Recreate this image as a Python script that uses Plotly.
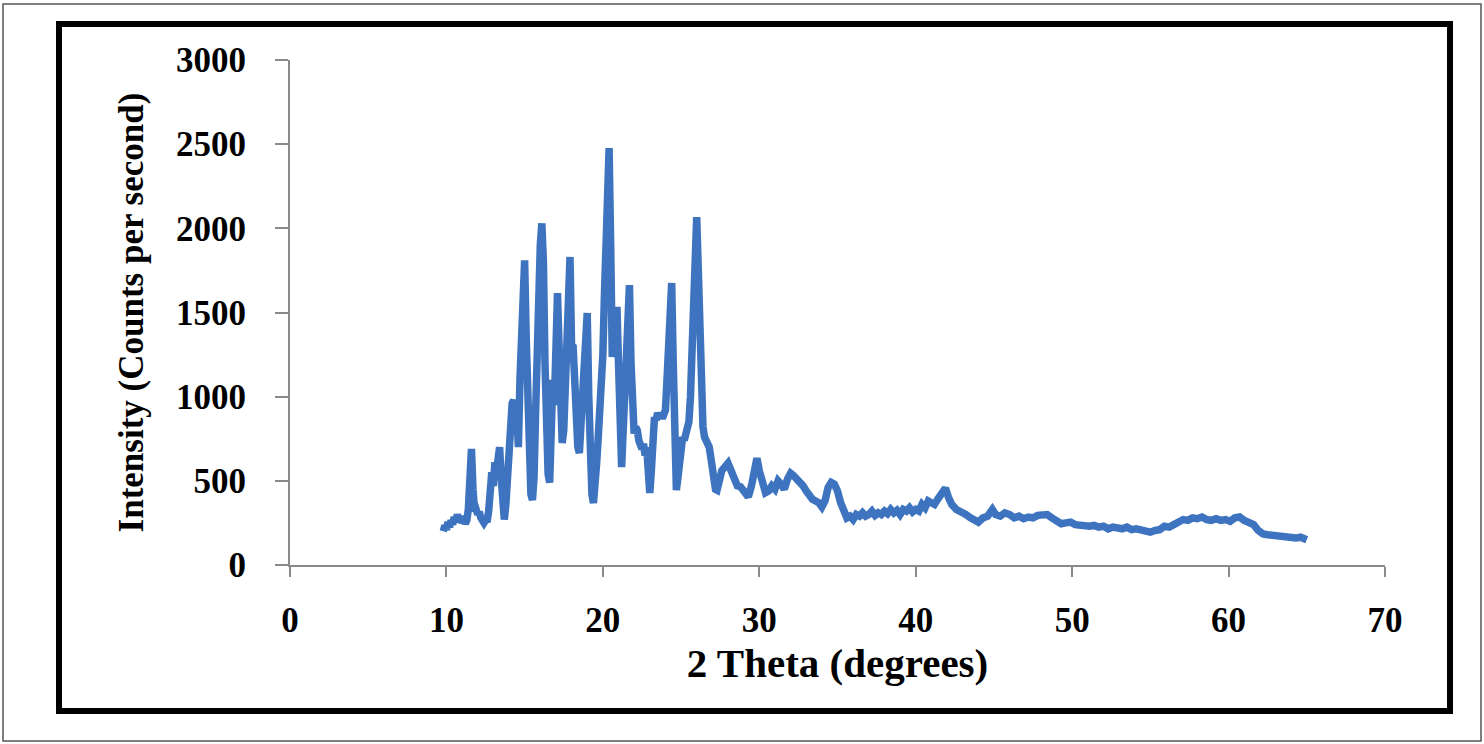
import plotly.graph_objects as go

# ---- data ----
theta_a = [9.8, 9.9, 10.0, 10.1, 10.2, 10.3, 10.4, 10.5, 10.6, 10.7,
           10.8, 10.9, 11.0, 11.1, 11.2, 11.3, 11.4, 11.5, 11.6, 11.7,
           11.8, 11.9, 12.0, 12.1, 12.2, 12.3, 12.4, 12.5, 12.6, 12.7,
           12.8, 12.9, 13.0, 13.1, 13.2, 13.3, 13.4, 13.5, 13.6, 13.7,
           13.8, 13.9, 14.0, 14.1, 14.2, 14.3, 14.4, 14.5, 14.6, 14.7,
           14.8, 14.9, 15.0, 15.1, 15.2, 15.3, 15.4, 15.5, 15.6, 15.7,
           15.8, 15.9, 16.0, 16.1, 16.2, 16.3, 16.4, 16.5, 16.6, 16.7,
           16.8, 16.9, 17.0, 17.1, 17.2, 17.3, 17.4, 17.5, 17.6, 17.7,
           17.8, 17.9, 18.0, 18.1, 18.2, 18.3, 18.4, 18.5, 18.6, 18.7,
           18.8, 18.9, 19.0, 19.1, 19.2, 19.3, 19.4, 19.5, 19.6, 19.7,
           19.8, 19.9, 20.0, 20.1, 20.2, 20.3, 20.4, 20.5, 20.6, 20.7,
           20.8, 20.9, 21.0, 21.1, 21.2, 21.3, 21.4, 21.5, 21.6, 21.7,
           21.8, 21.9, 22.0, 22.1, 22.2, 22.3, 22.4, 22.5, 22.6, 22.7,
           22.8, 22.9, 23.0, 23.1, 23.2, 23.3, 23.4, 23.5, 23.6, 23.7,
           23.8, 23.9, 24.0, 24.1, 24.2, 24.3, 24.4, 24.5, 24.6, 24.7,
           24.8, 24.9, 25.0, 25.1, 25.2, 25.3, 25.4, 25.5, 25.6, 25.7,
           25.8, 25.9, 26.0, 26.1, 26.2, 26.3, 26.4, 26.5, 26.6, 26.7,
           26.8, 26.9, 27.0, 27.1, 27.2, 27.3, 27.4, 27.5]
counts_a = [200, 235, 210, 255, 225, 265, 240, 285, 255, 300,
            265, 290, 250, 275, 245, 265, 330, 560, 690, 450,
            320, 330, 300, 315, 280, 260, 250, 265, 255, 320,
            430, 550, 470, 610, 560, 660, 700, 520, 330, 270,
            360, 520, 680, 880, 960, 980, 820, 900, 700, 1100,
            1450, 1700, 1810, 1350, 850, 560, 420, 386, 520, 900,
            1400, 1700, 1900, 2030, 1800, 1200, 760, 540, 490, 750,
            1100, 950, 1300, 1615, 1300, 950, 725, 800, 1100, 1400,
            1650, 1830, 1300, 1295, 1100, 850, 700, 665, 850, 1100,
            1300, 1450, 1497, 1000, 600, 420, 368, 450, 600, 750,
            900, 1000, 1250, 1600, 2000, 2300, 2477, 1900, 1236, 1350,
            1450, 1533, 1200, 750, 582, 800, 1100, 1350, 1550, 1663,
            1200, 850, 780, 820, 800, 740, 725, 690, 720, 650,
            700, 520, 428, 560, 750, 880, 860, 903, 880, 900,
            870, 900, 920, 1100, 1350, 1600, 1675, 1200, 700, 445,
            520, 650, 730, 760, 740, 780, 790, 850, 1000, 1200,
            1415, 1800, 2067, 1700, 1200, 880, 820, 760, 740, 720,
            700, 640, 560, 480, 450, 445, 470, 520]

theta_b = [27.6, 27.8, 28.0, 28.2, 28.4, 28.6, 28.8, 29.0, 29.2, 29.3,
           29.5, 29.7, 29.85, 30.0, 30.2, 30.4, 30.6, 30.8, 31.0, 31.2,
           31.4, 31.6, 31.8, 32.0, 32.2, 32.4, 32.6, 32.8, 33.0, 33.2,
           33.4, 33.6, 33.8, 34.0, 34.2, 34.4, 34.6, 34.8, 35.0, 35.2,
           35.4, 35.6, 35.8, 36.0, 36.2, 36.4, 36.6, 36.8, 37.0, 37.2,
           37.4, 37.6, 37.8, 38.0, 38.2, 38.4, 38.6, 38.8, 39.0, 39.2,
           39.4, 39.6, 39.8, 40.0, 40.2, 40.4, 40.6, 40.8, 41.0, 41.2,
           41.4, 41.6, 41.8, 41.9, 42.1, 42.3, 42.6, 42.9, 43.2, 43.5,
           43.8, 44.0, 44.3, 44.6, 44.9, 45.1, 45.4, 45.7, 46.0, 46.3,
           46.6, 46.9, 47.2, 47.5, 47.8, 48.1, 48.4, 48.7, 49.0, 49.3,
           49.6, 49.9, 50.2, 50.5, 50.8, 51.1, 51.4, 51.7, 52.0, 52.3,
           52.6, 52.9, 53.2, 53.5, 53.8, 54.1, 54.4, 54.7, 55.0, 55.3,
           55.6, 55.9, 56.2, 56.5, 56.8, 57.1, 57.4, 57.7, 58.0, 58.3,
           58.6, 58.9, 59.2, 59.5, 59.8, 60.1, 60.4, 60.7, 61.0, 61.3,
           61.6, 61.9, 62.2, 62.5, 62.8, 63.1, 63.4, 63.7, 64.0, 64.3,
           64.6, 64.9, 65.0]
counts_b = [560, 590, 605, 560, 500, 470, 465, 440, 420, 405,
            470, 560, 635, 560, 470, 430, 440, 470, 450, 500,
            480, 450, 510, 545, 530, 510, 505, 470, 440, 410,
            390, 380, 370, 345, 380, 460, 490, 480, 440, 370,
            310, 280, 290, 270, 300, 290, 310, 290, 300, 320,
            295, 310, 300, 320, 305, 330, 310, 325, 300, 330,
            320, 340, 315, 330, 320, 360, 340, 380, 370, 360,
            390, 420, 440, 457, 400, 360, 330, 320, 300, 280,
            260, 255, 280, 290, 330, 300, 290, 310, 300, 280,
            290, 275, 285, 280, 295, 300, 300, 280, 260, 245,
            250, 255, 240, 235, 240, 230, 235, 225, 230, 215,
            225, 220, 215, 225, 210, 215, 205, 200, 195, 205,
            210, 230, 225, 240, 260, 270, 265, 280, 275, 285,
            270, 265, 275, 265, 270, 260, 280, 285, 265, 255,
            240, 205, 185, 180, 175, 170, 175, 165, 165, 160,
            165, 155, 150]

x_ticks = [0, 10, 20, 30, 40, 50, 60, 70]
y_ticks = [0, 500, 1000, 1500, 2000, 2500, 3000]
x_title = "2 Theta (degrees)"
y_title = "Intensity (Counts per second)"

two_theta = theta_a + theta_b
intensity = counts_a + counts_b

FONT = "Liberation Serif, Times New Roman, serif"

fig = go.Figure()
fig.add_trace(go.Scatter(
    x=two_theta, y=intensity, mode="lines",
    line=dict(color="#3E74BF", width=7.5),
    showlegend=False, hoverinfo="x+y",
))

fig.update_layout(
    width=1484, height=744,
    margin=dict(l=290, r=99, t=60, b=179),
    paper_bgcolor="white", plot_bgcolor="white",
    font=dict(family=FONT, color="black"),
)

fig.update_xaxes(
    range=[0, 70], tickvals=x_ticks, ticktext=[str(v) for v in x_ticks],
    showgrid=False, zeroline=False,
    showline=True, linecolor="#8a8a8a", linewidth=2,
    ticks="outside", ticklen=10, tickwidth=2, tickcolor="#8a8a8a",
    tickfont=dict(family=FONT, size=35, color="black", weight="bold"),
    ticklabelstandoff=13,
    title=dict(text=x_title, font=dict(family=FONT, size=41, color="black", weight="bold"),
               standoff=5),
    automargin=False,
)
fig.update_yaxes(
    range=[0, 3000], tickvals=y_ticks, ticktext=[str(v) for v in y_ticks],
    showgrid=False, zeroline=False,
    showline=True, linecolor="#8a8a8a", linewidth=2,
    ticks="outside", ticklen=13, tickwidth=2, tickcolor="#8a8a8a",
    tickfont=dict(family=FONT, size=35, color="black", weight="bold"),
    ticklabelstandoff=22,
    title=dict(text=y_title, font=dict(family=FONT, size=35, color="black", weight="bold"),
               standoff=22),
    automargin=False,
)

# outer thin border of the picture
fig.add_shape(type="rect", xref="paper", yref="paper",
              x0=(3 - 290) / 1095, x1=(1481 - 290) / 1095,
              y0=(565 - 741) / 505, y1=(565 - 4) / 505,
              line=dict(color="#555555", width=1.5), layer="above")
# thick black frame
fig.add_shape(type="rect", xref="paper", yref="paper",
              x0=(59 - 290) / 1095, x1=(1450 - 290) / 1095,
              y0=(565 - 711) / 505, y1=(565 - 24) / 505,
              line=dict(color="black", width=6), layer="above")

fig.write_html("out.html")
